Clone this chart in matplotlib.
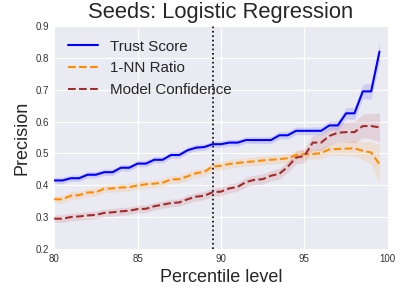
import numpy as np
import matplotlib
matplotlib.use('Agg')
import matplotlib.pyplot as plt
plt.style.use('seaborn-v0_8-darkgrid')

percentiles = [80, 80.5, 81, 81.5, 82, 82.5, 83, 83.5, 84, 84.5,
               85, 85.5, 86, 86.5, 87, 87.5, 88, 88.5, 89, 89.5,
               90, 90.5, 91, 91.5, 92, 92.5, 93, 93.5, 94, 94.5,
               95, 95.5, 96, 96.5, 97, 97.5, 98, 98.5, 99, 99.5]

trust_score = [0.415, 0.415, 0.422, 0.422, 0.433, 0.433, 0.441, 0.441, 0.455, 0.455,
               0.468, 0.468, 0.480, 0.480, 0.495, 0.495, 0.510, 0.518, 0.520, 0.529,
               0.529, 0.534, 0.534, 0.542, 0.542, 0.542, 0.542, 0.557, 0.557, 0.571,
               0.571, 0.571, 0.571, 0.588, 0.588, 0.626, 0.626, 0.695, 0.695, 0.820]
trust_err = [0.01, 0.01, 0.01, 0.01, 0.01, 0.01, 0.01, 0.01, 0.01, 0.01,
             0.01, 0.01, 0.01, 0.01, 0.01, 0.01, 0.01, 0.01, 0.01, 0.01,
             0.01, 0.01, 0.01, 0.01, 0.011, 0.011, 0.011, 0.011, 0.012, 0.012,
             0.012, 0.012, 0.013, 0.014, 0.015, 0.017, 0.02, 0.022, 0.025, 0.03]

nn_ratio = [0.356, 0.356, 0.367, 0.369, 0.377, 0.378, 0.389, 0.390, 0.393, 0.394,
            0.399, 0.403, 0.405, 0.408, 0.418, 0.419, 0.428, 0.438, 0.442, 0.459,
            0.461, 0.467, 0.470, 0.473, 0.475, 0.478, 0.480, 0.482, 0.485, 0.495,
            0.498, 0.498, 0.501, 0.513, 0.514, 0.515, 0.516, 0.508, 0.503, 0.466]
nn_err = [0.012, 0.012, 0.012, 0.012, 0.012, 0.012, 0.012, 0.012, 0.012, 0.012,
          0.012, 0.012, 0.012, 0.012, 0.012, 0.012, 0.013, 0.013, 0.013, 0.013,
          0.013, 0.013, 0.013, 0.013, 0.014, 0.014, 0.014, 0.014, 0.015, 0.015,
          0.015, 0.016, 0.017, 0.018, 0.02, 0.022, 0.025, 0.028, 0.035, 0.06]

model_conf = [0.295, 0.295, 0.300, 0.302, 0.305, 0.307, 0.313, 0.315, 0.318, 0.320,
              0.325, 0.326, 0.334, 0.339, 0.344, 0.346, 0.356, 0.364, 0.367, 0.378,
              0.380, 0.390, 0.395, 0.410, 0.417, 0.419, 0.430, 0.436, 0.458, 0.487,
              0.492, 0.534, 0.534, 0.555, 0.565, 0.567, 0.567, 0.586, 0.586, 0.582]
conf_err = [0.012, 0.012, 0.012, 0.012, 0.012, 0.012, 0.012, 0.012, 0.012, 0.012,
            0.012, 0.012, 0.012, 0.012, 0.012, 0.012, 0.013, 0.013, 0.013, 0.013,
            0.014, 0.014, 0.014, 0.015, 0.015, 0.016, 0.016, 0.017, 0.018, 0.02,
            0.022, 0.024, 0.026, 0.028, 0.03, 0.032, 0.034, 0.037, 0.04, 0.045]

cutoff = 89.5

fig = plt.figure(figsize=(4.04, 2.97), dpi=100)
ax = fig.add_axes([0.134, 0.162, 0.826, 0.750])

x = np.array(percentiles)
series = [
    (trust_score, trust_err, 'blue', '-', 'Trust Score'),
    (nn_ratio, nn_err, 'darkorange', '--', '1-NN Ratio'),
    (model_conf, conf_err, 'brown', '--', 'Model Confidence'),
]
for vals, err, color, ls, label in series:
    vals = np.array(vals)
    err = np.array(err)
    ax.plot(x, vals, color=color, linestyle=ls, linewidth=1.5, label=label)
    ax.fill_between(x, vals - err, vals + err, color=color, alpha=0.12, linewidth=0)

ax.axvline(cutoff, color='black', linestyle=':', linewidth=1.2)

ax.set_xlim(80, 100)
ax.set_ylim(0.2, 0.9)
ax.set_xticks([80, 85, 90, 95, 100])
ax.tick_params(labelsize=7, labelcolor='0.2')
ax.set_title('Seeds: Logistic Regression', fontsize=15.8, color='0.15')
ax.set_xlabel('Percentile level', fontsize=13, color='0.15')
ax.set_ylabel('Precision', fontsize=13, color='0.15')
leg = ax.legend(loc='upper left', fontsize=10.9)
for t in leg.get_texts():
    t.set_color('0.15')

plt.savefig('out.png', dpi=100)
